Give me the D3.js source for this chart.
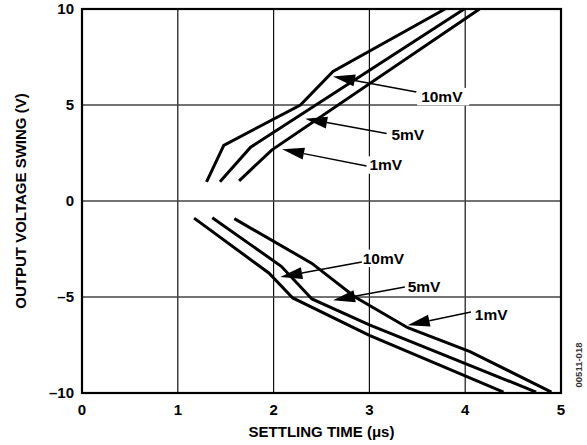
<!DOCTYPE html>
<html>
<head>
<meta charset="utf-8">
<script src="https://cdn.jsdelivr.net/npm/d3@7"></script>
<style>
  body { margin: 0; background: #fff; }
  text { font-family: Arial, "Liberation Sans", sans-serif; font-weight: bold; }
</style>
</head>
<body>
<svg></svg>
<script>
var margin = {top: 9, left: 82, bottom: 52, right: 26};
var width = 587 - margin.left - margin.right;
var height = 445 - margin.top - margin.bottom;

// tick labels
var xTicks = [0, 1, 2, 3, 4, 5];
var yTicks = [-10, -5, 0, 5, 10];

// curves: [settling time (us), output swing (V)]
var up10mV = [[1.30, 1.0], [1.48, 2.9], [2.28, 5.0], [2.62, 6.75], [3.79, 10]];
var up5mV  = [[1.44, 1.0], [1.76, 2.8], [3.99, 10]];
var up1mV  = [[1.64, 1.05], [1.98, 2.65], [4.15, 10]];
var dn10mV = [[1.17, -0.89], [1.95, -3.75], [2.2, -5.05], [3.0, -7.0], [4.40, -9.95]];
var dn5mV  = [[1.36, -0.87], [2.08, -3.4], [2.4, -5.1], [3.0, -6.45], [4.74, -9.95]];
var dn1mV  = [[1.59, -0.92], [2.4, -3.25], [2.85, -5.0], [3.4, -6.6], [4.05, -7.85], [4.90, -9.95]];

var curves = [up10mV, up5mV, up1mV, dn10mV, dn5mV, dn1mV];

// callouts: label, arrow tip, arrow tail, label anchor (left, baseline)
var labels   = ["10mV", "5mV", "1mV", "10mV", "5mV", "1mV"];
var tips     = [[2.62, 6.49], [2.33, 4.29], [2.09, 2.69], [2.07, -3.96], [2.62, -5.17], [3.40, -6.47]];
var tails    = [[3.49, 5.68], [3.18, 3.51], [2.97, 1.82], [2.92, -3.18], [3.37, -4.48], [4.06, -5.78]];
var labelPos = [[3.54, 5.16], [3.23, 3.16], [3.0, 1.6], [2.93, -3.26], [3.40, -4.74], [4.10, -6.21]];

var svg = d3.select("svg")
  .attr("width", 587)
  .attr("height", 445);

var g = svg.append("g")
  .attr("transform", "translate(" + margin.left + "," + margin.top + ")");

var x = d3.scaleLinear().domain([0, 5]).range([0, width]);
var y = d3.scaleLinear().domain([-10, 10]).range([height, 0]);

// grid
g.append("g")
  .selectAll("line")
  .data(xTicks.slice(1, -1))
  .enter().append("line")
    .attr("x1", d => x(d)).attr("x2", d => x(d))
    .attr("y1", 0).attr("y2", height)
    .attr("stroke", "#111").attr("stroke-width", 1.2);

g.append("g")
  .selectAll("line")
  .data(yTicks.slice(1, -1))
  .enter().append("line")
    .attr("x1", 0).attr("x2", width)
    .attr("y1", d => y(d)).attr("y2", d => y(d))
    .attr("stroke", "#444").attr("stroke-width", 1.4);

// curves
var line = d3.line().x(d => x(d[0])).y(d => y(d[1]));

g.append("g")
  .selectAll("path")
  .data(curves)
  .enter().append("path")
    .attr("d", line)
    .attr("fill", "none")
    .attr("stroke", "#000")
    .attr("stroke-width", 3)
    .attr("stroke-linejoin", "miter");

// callouts
var ann = g.append("g");
labels.forEach(function(lab, i) {
  var tx = x(tips[i][0]), ty = y(tips[i][1]);
  var sx = x(tails[i][0]), sy = y(tails[i][1]);
  var lx = x(labelPos[i][0]), ly = y(labelPos[i][1]);
  var ang = Math.atan2(sy - ty, sx - tx);
  var len = 22, hw = 6;
  var bx = tx + len * Math.cos(ang), by = ty + len * Math.sin(ang);
  ann.append("line")
    .attr("x1", bx).attr("y1", by).attr("x2", sx).attr("y2", sy)
    .attr("stroke", "#000").attr("stroke-width", 1.5);
  ann.append("path")
    .attr("d", "M" + tx + "," + ty +
      "L" + (bx - hw * Math.sin(ang)) + "," + (by + hw * Math.cos(ang)) +
      "L" + (bx + hw * Math.sin(ang)) + "," + (by - hw * Math.cos(ang)) + "Z")
    .attr("fill", "#000");
  var t = ann.append("text")
    .attr("x", lx)
    .attr("y", ly)
    .attr("font-size", 15.5)
    .text(lab);
  var bb = t.node().getBBox();
  ann.insert("rect", "text")
    .attr("x", bb.x - 4).attr("y", ly - 14)
    .attr("width", bb.width + 10).attr("height", 17.5)
    .attr("fill", "#fff");
});

// frame
g.append("rect")
  .attr("width", width).attr("height", height)
  .attr("fill", "none").attr("stroke", "#000").attr("stroke-width", 2.2);

// tick labels
g.append("g")
  .selectAll("text")
  .data(xTicks)
  .enter().append("text")
    .attr("x", d => x(d))
    .attr("y", height + 22)
    .attr("text-anchor", "middle")
    .attr("font-size", 15)
    .text(d => d);

g.append("g")
  .selectAll("text")
  .data(yTicks)
  .enter().append("text")
    .attr("x", -8)
    .attr("y", d => y(d) + 5)
    .attr("text-anchor", "end")
    .attr("font-size", 15)
    .text(d => d < 0 ? "\u2013" + Math.abs(d) : d);

// axis titles
svg.append("text")
  .attr("x", margin.left + width / 2)
  .attr("y", 437)
  .attr("text-anchor", "middle")
  .attr("font-size", 15)
  .text("SETTLING TIME (\u03bcs)");

svg.append("text")
  .attr("transform", "translate(26," + (margin.top + height / 2) + ") rotate(-90)")
  .attr("text-anchor", "middle")
  .attr("font-size", 15)
  .text("OUTPUT VOLTAGE SWING (V)");

// figure id
svg.append("text")
  .attr("transform", "translate(582,365) rotate(-90)")
  .attr("text-anchor", "middle")
  .attr("font-size", 9.5)
  .attr("font-weight", "normal")
  .attr("fill", "#333")
  .text("00511-018");
</script>
</body>
</html>
